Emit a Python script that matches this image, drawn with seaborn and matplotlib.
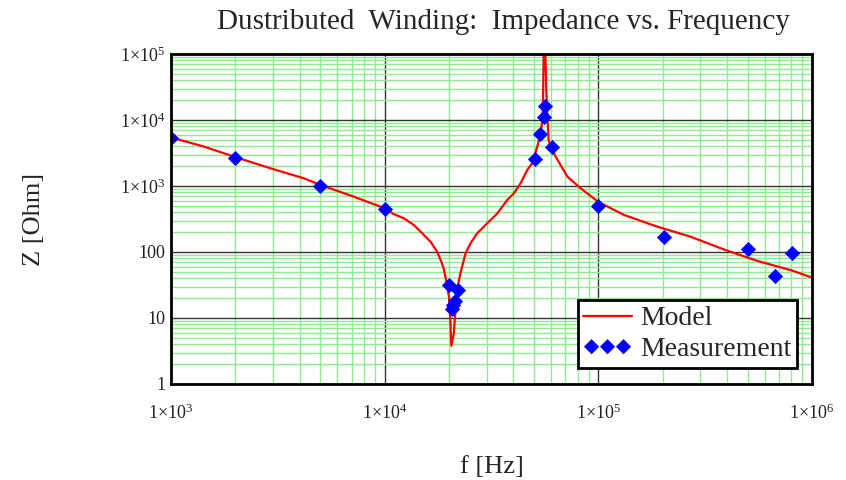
import matplotlib
matplotlib.use('Agg')
import matplotlib.pyplot as plt
import matplotlib.ticker as mticker
import seaborn as sns
import pandas as pd
import numpy as np

# model curve
model_f = [1e3, 1.42e3, 2.03e3, 2.91e3, 4.17e3, 5e3, 7.16e3, 1e4, 1.1e4, 1.23e4,
           1.37e4, 1.5e4, 1.64e4, 1.76e4, 1.83e4, 1.89e4, 1.94e4, 2.0e4, 2.03e4,
           2.05e4, 2.107e4, 2.145e4, 2.18e4, 2.26e4, 2.39e4, 2.52e4, 2.71e4,
           3.02e4, 3.37e4, 3.75e4, 4.03e4, 4.33e4, 4.65e4, 4.91e4, 5.18e4,
           5.38e4, 5.49e4, 5.52e4, 5.56e4, 5.63e4, 5.7e4, 5.8e4, 5.85e4,
           5.98e4, 6.31e4, 7.16e4, 8.26e4, 1e5, 1.32e5, 1.89e5, 2.71e5, 3.88e5,
           5.57e5, 7.98e5, 1e6]
model_z = [5440, 3970, 2700, 1862, 1314, 1040, 690, 460, 377, 324,
           256, 192, 143, 101, 75, 56, 37, 21, 9.2,
           3.8, 5.8, 13.1, 26.4, 47, 95, 135, 192,
           272, 386, 615, 777, 1104, 1757, 2220, 3970,
           6340, 11350, 30000, 2e5, 2e5, 30000, 9000, 5000,
           3970, 2800, 1390, 925, 575, 364, 242, 170, 109,
           73, 53, 41]

# measured points
meas_f = [1e3, 2e3, 5e3, 1e4, 1.995e4, 2.2e4, 2.14e4, 2.07e4, 2.09e4,
          5.03e4, 5.34e4, 5.54e4, 5.61e4, 6.07e4, 1e5, 2.03e5, 5e5, 6.7e5, 8.07e5]
meas_z = [5380, 2700, 1015, 449, 31.4, 27, 18, 13.9, 16,
          2555, 6170, 11200, 16500, 3835, 504, 170, 111, 43, 95]

x_ticks = [1e3, 1e4, 1e5, 1e6]
x_labels = [r'$\mathregular{1{\times}10^{3}}$', r'$\mathregular{1{\times}10^{4}}$',
            r'$\mathregular{1{\times}10^{5}}$', r'$\mathregular{1{\times}10^{6}}$']
y_ticks = [1, 10, 100, 1e3, 1e4, 1e5]
y_labels = ['1', '10', '100', r'$\mathregular{1{\times}10^{3}}$',
            r'$\mathregular{1{\times}10^{4}}$', r'$\mathregular{1{\times}10^{5}}$']

sns.set_theme(style='white')
plt.rcParams['font.family'] = ['Liberation Serif', 'DejaVu Serif']
plt.rcParams['mathtext.fontset'] = 'custom'
plt.rcParams['mathtext.rm'] = 'Liberation Serif'

model_df = pd.DataFrame({'f': model_f, 'Z': model_z})
meas_df = pd.DataFrame({'f': meas_f, 'Z': meas_z})

fig = plt.figure(figsize=(8.46, 4.8), dpi=100)
ax = fig.add_axes([171 / 846, 96 / 480, 641 / 846, 330 / 480])
ax.set_xscale('log')
ax.set_yscale('log')

sns.lineplot(data=model_df, x='f', y='Z', ax=ax, color='#FF0000', linewidth=1.6,
             label='Model', sort=False, estimator=None)
sns.scatterplot(data=meas_df, x='f', y='Z', ax=ax, color='#0000FF', marker='D',
                s=60, edgecolor='#0000FF', linewidth=0, label='Measurement', zorder=5)

ax.set_xlim(1e3, 1e6)
ax.set_ylim(1, 1e5)

ax.xaxis.set_major_locator(mticker.FixedLocator(x_ticks))
ax.xaxis.set_major_formatter(mticker.FixedFormatter(x_labels))
ax.yaxis.set_major_locator(mticker.FixedLocator(y_ticks))
ax.yaxis.set_major_formatter(mticker.FixedFormatter(y_labels))
ax.xaxis.set_minor_locator(mticker.LogLocator(base=10, subs=np.arange(2, 10), numticks=20))
ax.yaxis.set_minor_locator(mticker.LogLocator(base=10, subs=np.arange(2, 10), numticks=20))
ax.xaxis.set_minor_formatter(mticker.NullFormatter())
ax.yaxis.set_minor_formatter(mticker.NullFormatter())

ax.grid(True, which='minor', color='#8CEE8C', linewidth=1.0)
ax.grid(True, which='major', color='#333333', linewidth=1.0)
ax.set_axisbelow(True)
ax.tick_params(which='both', length=0, labelsize=13, colors='#222222')
ax.tick_params(axis='x', pad=14)
ax.tick_params(axis='y', pad=4)
for sp in ax.spines.values():
    sp.set_color('black')
    sp.set_linewidth(2)
    sp.set_zorder(10)

ax.set_xlabel('f [Hz]', fontsize=19, labelpad=24)
ax.set_ylabel('Z [Ohm]', fontsize=19, labelpad=54)
fig.text(503 / 846, 1 - 22 / 480, 'Dustributed  Winding:  Impedance vs. Frequency',
         fontsize=21, ha='center', va='center')

leg = ax.legend(loc='lower right', bbox_to_anchor=(0.9766, 0.0485), fontsize=20,
                scatterpoints=3, scatteryoffsets=[0.5], frameon=True, fancybox=False,
                borderpad=0.2, handlelength=1.75, handletextpad=0.3,
                labelspacing=0.2, borderaxespad=0)
leg.get_frame().set_edgecolor('black')
leg.get_frame().set_linewidth(2)
leg.get_frame().set_alpha(1)
leg.set_zorder(20)

fig.savefig('out.png', dpi=100)
